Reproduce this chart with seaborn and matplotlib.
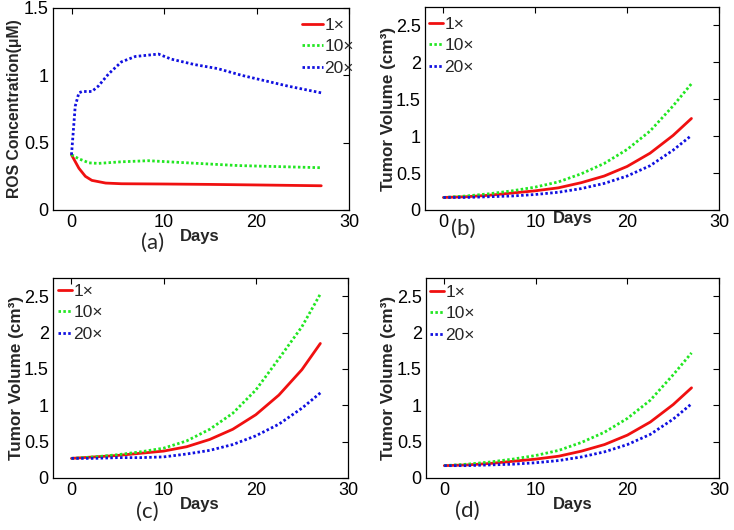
import numpy as np
import pandas as pd
import matplotlib
matplotlib.use("Agg")
import matplotlib.pyplot as plt
import seaborn as sns

# ---------------- data ----------------
doses = ["1\u00d7", "10\u00d7", "20\u00d7"]

# (a) ROS concentration
ros_days_1 = [0, 0.8, 1.5, 2.2, 3.7, 5.4, 10, 15, 20, 27]
ros_vals_1 = [0.41, 0.31, 0.25, 0.22, 0.20, 0.195, 0.193, 0.19, 0.186, 0.18]
ros_days_10 = [0, 0.8, 1.9, 2.9, 5.4, 8.3, 12.6, 18, 27]
ros_vals_10 = [0.41, 0.38, 0.35, 0.346, 0.358, 0.366, 0.35, 0.33, 0.314]
ros_days_20 = [0, 0.4, 0.8, 1.15, 2.2, 2.9, 4, 5.4, 6.9, 9.4, 10.8, 13.3, 15.8, 18.4, 20.9, 23.4, 27]
ros_vals_20 = [0.41, 0.77, 0.87, 0.88, 0.88, 0.92, 1.01, 1.10, 1.14, 1.158, 1.12, 1.08, 1.05, 1.00, 0.96, 0.92, 0.87]

# tumor volume days
tv_days = [0, 2.5, 5, 7.5, 10, 12.5, 15, 17.5, 20, 22.5, 25, 27]

# (b) tumor volume
b_1 = [0.17, 0.18, 0.20, 0.23, 0.26, 0.30, 0.37, 0.46, 0.59, 0.77, 1.01, 1.24]
b_10 = [0.17, 0.19, 0.22, 0.26, 0.31, 0.38, 0.49, 0.63, 0.82, 1.07, 1.41, 1.71]
b_20 = [0.17, 0.17, 0.18, 0.19, 0.21, 0.24, 0.29, 0.36, 0.46, 0.60, 0.81, 1.01]

# (c) tumor volume
c_1 = [0.27, 0.29, 0.31, 0.34, 0.37, 0.43, 0.53, 0.67, 0.87, 1.14, 1.49, 1.85]
c_10 = [0.27, 0.29, 0.32, 0.36, 0.41, 0.51, 0.67, 0.89, 1.21, 1.64, 2.08, 2.53]
c_20 = [0.27, 0.27, 0.28, 0.28, 0.29, 0.33, 0.38, 0.46, 0.58, 0.74, 0.96, 1.17]

# (d) tumor volume
d_1 = [0.17, 0.18, 0.20, 0.23, 0.26, 0.30, 0.37, 0.46, 0.59, 0.77, 1.01, 1.24]
d_10 = [0.17, 0.19, 0.22, 0.26, 0.31, 0.38, 0.49, 0.63, 0.82, 1.07, 1.42, 1.72]
d_20 = [0.17, 0.17, 0.18, 0.19, 0.21, 0.24, 0.29, 0.36, 0.46, 0.60, 0.81, 1.02]

ros_ticks = [0, 0.5, 1, 1.5]
ros_ticklabels = ["0", "0.5", "1", "1.5"]
tv_ticks = [0, 0.5, 1, 1.5, 2, 2.5]
tv_ticklabels = ["0", "0.5", "1", "1.5", "2", "2.5"]
x_ticks = [0, 10, 20, 30]
x_ticklabels = ["0", "10", "20", "30"]

# ---------------- style ----------------
sns.set_style("white")
plt.rcParams['font.family'] = ['Liberation Sans', 'DejaVu Sans']
TICK_FS = 13
LEG_FS = 12.5

palette = {doses[0]: "#f01010", doses[1]: "#22e622", doses[2]: "#1010e0"}
dashes = {doses[0]: "", doses[1]: (0.9, 0.85), doses[2]: (0.9, 0.85)}


def frame(pairs):
    parts = []
    for dose, (d, v) in zip(doses, pairs):
        parts.append(pd.DataFrame({"day": d, "value": v, "dose": dose}))
    return pd.concat(parts, ignore_index=True)


fig = plt.figure(figsize=(7.34, 5.30), dpi=100)
W, H = 734.0, 530.0


def add_axes(l, r, t, b):
    return fig.add_axes([l / W, 1 - b / H, (r - l) / W, (b - t) / H])


panels = [
    dict(box=(53, 349, 8, 210), data=[(ros_days_1, ros_vals_1), (ros_days_10, ros_vals_10), (ros_days_20, ros_vals_20)],
         ylim=(0, 1.5), yt=ros_ticks, ytl=ros_ticklabels, ylabel="ROS Concentration(\u03bcM)", ylfs=11.3,
         ylx=15, xl=(200, 237), leg=(302, 18), hl=1.2, tag="(a)", tagpos=(153, 243)),
    dict(box=(425, 719, 7, 210), data=[(tv_days, b_1), (tv_days, b_10), (tv_days, b_20)],
         ylim=(0, 2.75), yt=tv_ticks, ytl=tv_ticklabels, ylabel="Tumor Volume (cm\u00b3)", ylfs=12.3,
         ylx=389, xl=(573, 219), leg=(429, 17), hl=0.8, tag="(b)", tagpos=(463, 229)),
    dict(box=(53, 348, 278, 478), data=[(tv_days, c_1), (tv_days, c_10), (tv_days, c_20)],
         ylim=(0, 2.75), yt=tv_ticks, ytl=tv_ticklabels, ylabel="Tumor Volume (cm\u00b3)", ylfs=12.3,
         ylx=17, xl=(200, 505), leg=(58, 284), hl=0.8, tag="(c)", tagpos=(147, 512)),
    dict(box=(426, 719, 278, 478), data=[(tv_days, d_1), (tv_days, d_10), (tv_days, d_20)],
         ylim=(0, 2.75), yt=tv_ticks, ytl=tv_ticklabels, ylabel="Tumor Volume (cm\u00b3)", ylfs=12.3,
         ylx=389, xl=(573, 505), leg=(430, 285), hl=0.8, tag="(d)", tagpos=(467, 511)),
]

for p in panels:
    l, r, t, b = p["box"]
    ax = add_axes(l, r, t, b)
    df = frame(p["data"])
    sns.lineplot(data=df, x="day", y="value", hue="dose", style="dose",
                 palette=palette, dashes=dashes, linewidth=2.0, estimator=None,
                 sort=False, ax=ax)
    ax.set_xlim(-2, 30)
    ax.set_ylim(*p["ylim"])
    ax.set_xticks(x_ticks)
    ax.set_xticklabels(x_ticklabels)
    ax.set_yticks(p["yt"])
    ax.set_yticklabels(p["ytl"])
    ax.tick_params(direction="in", top=True, right=True, length=4, width=0.8,
                   labelsize=TICK_FS, colors="black", pad=3)
    for s in ax.spines.values():
        s.set_color("black")
        s.set_linewidth(0.9)
        s.set_visible(True)

    ax.set_xlabel("Days", fontsize=12, fontweight="bold")
    ax.set_ylabel(p["ylabel"], fontsize=p["ylfs"], fontweight="bold")
    xlx, xly = p["xl"]
    ax.xaxis.set_label_coords((xlx - l) / (r - l), (b - xly) / (b - t))
    ax.xaxis.label.set_va("center")
    ax.yaxis.set_label_coords((p["ylx"] - l) / (r - l), 0.5)
    ax.yaxis.label.set_va("center")

    handles, labels = ax.get_legend_handles_labels()
    lx, ly = p["leg"]
    ax.legend(handles, labels, loc="upper left",
              bbox_to_anchor=((lx - l) / (r - l), (b - ly) / (b - t)),
              frameon=False, fontsize=LEG_FS, handlelength=p["hl"], handletextpad=0.1,
              labelspacing=0.35, borderpad=0, borderaxespad=0)

    tx, ty = p["tagpos"]
    fig.text(tx / W, 1 - ty / H, p["tag"], fontsize=16, family=["Lato", "DejaVu Sans"],
             ha="center", va="center")

fig.savefig("out.png", dpi=100)
